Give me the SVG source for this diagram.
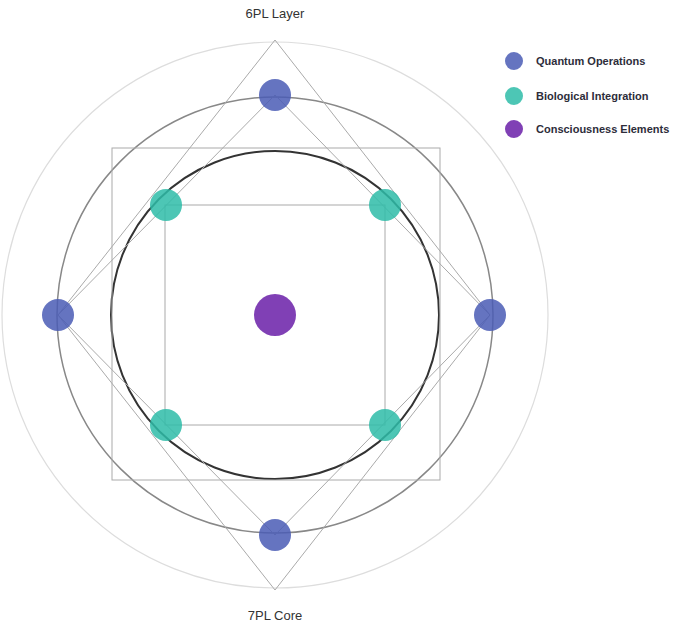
<svg xmlns="http://www.w3.org/2000/svg" width="685" height="625" viewBox="0 0 685 625">
<style>
text{font-family:"Liberation Sans",Arial,sans-serif;fill:#333}
.lbl{font-size:13px;text-anchor:middle}
.leg{font-size:11px;font-weight:bold;fill:#2d2d3a}
.thin{fill:none;stroke:#aaa;stroke-width:1}
.q{fill:#4a5cb5;fill-opacity:0.85}
.b{fill:#2ebca8;fill-opacity:0.85}
.c{fill:#6a1fa8;fill-opacity:0.85}
</style>
<rect width="685" height="625" fill="#fff"/>
<g id="rings">
<circle cx="275" cy="315" r="273" fill="none" stroke="#ddd" stroke-width="1.2"/>
<circle cx="275" cy="315" r="218" fill="none" stroke="#888" stroke-width="1.5"/>
<circle cx="275" cy="315" r="164" fill="none" stroke="#333" stroke-width="2"/>
</g>
<g id="connectors">
<rect class="thin" x="112" y="148" width="328" height="332"/>
<rect class="thin" x="165" y="205" width="220" height="220"/>
<polygon class="thin" points="275,40 490,315 275,590 58,315"/>
<polygon class="thin" points="275,95 490,315 275,535 58,315"/>
</g>
<g id="quantum">
<circle class="q" cx="275" cy="95" r="16"/>
<circle class="q" cx="490" cy="315" r="16"/>
<circle class="q" cx="275" cy="535" r="16"/>
<circle class="q" cx="58" cy="315" r="16"/>
</g>
<g id="biological">
<circle class="b" cx="166" cy="205" r="16"/>
<circle class="b" cx="385" cy="205" r="16"/>
<circle class="b" cx="166" cy="425" r="16"/>
<circle class="b" cx="385" cy="425" r="16"/>
</g>
<g id="consciousness">
<circle class="c" cx="275" cy="315" r="21"/>
</g>
<g id="labels">
<text class="lbl" x="275" y="18">6PL Layer</text>
<text class="lbl" x="275" y="620">7PL Core</text>
</g>
<g id="legend">
<circle class="q" cx="514" cy="61" r="9"/>
<text class="leg" x="536" y="65">Quantum Operations</text>
<circle class="b" cx="514" cy="96" r="9"/>
<text class="leg" x="536" y="100">Biological Integration</text>
<circle class="c" cx="514" cy="129" r="9"/>
<text class="leg" x="536" y="133">Consciousness Elements</text>
</g>
</svg>
